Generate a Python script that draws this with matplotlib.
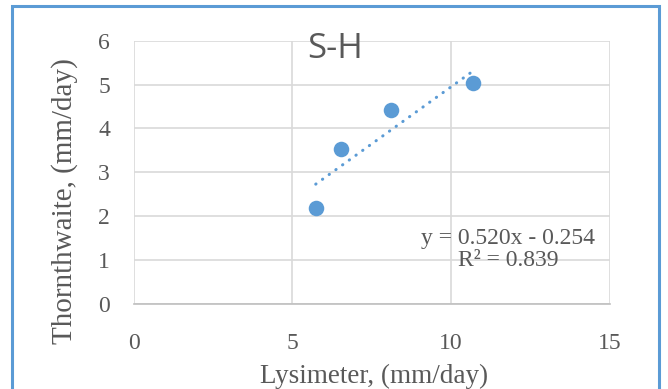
import numpy as np
import matplotlib.pyplot as plt
from matplotlib.patches import Rectangle

# --- Données : évapotranspiration Lysimètre vs Thornthwaite (S-H) ---
lysimeter = [5.74, 6.55, 8.11, 10.71]
thornthwaite = [2.19, 3.53, 4.43, 5.03]
slope = 0.520
intercept = -0.254
r2 = 0.839

blue = "#5B9BD5"
grey_txt = "#595959"
grid_c = "#D9D9D9"
serif = ["Liberation Serif", "DejaVu Serif"]

fig = plt.figure(figsize=(6.68, 3.89), dpi=100)
ax = fig.add_axes([0.2, 0.2185, 0.7126, 0.677])

ax.scatter(lysimeter, thornthwaite, s=125, color=blue, zorder=3, linewidths=0)

# Courbe de tendance linéaire
x_fit = np.array([min(lysimeter), max(lysimeter)])
y_fit = slope * x_fit + intercept
ax.plot(x_fit, y_fit, color=blue, linestyle=(0, (0.1, 2.6)), linewidth=2.2,
        dash_capstyle="round", zorder=2)

ax.set_xlim(0, 15)
ax.set_ylim(0, 6)
ax.set_xticks([0, 5, 10, 15])
ax.set_yticks(range(0, 7))
ax.grid(True, color=grid_c, linewidth=1.2)
ax.set_axisbelow(True)
for s in ["top", "right", "left"]:
    ax.spines[s].set_visible(False)
ax.spines["bottom"].set_color("#BFBFBF")
ax.spines["bottom"].set_linewidth(1.2)
ax.tick_params(length=0, labelsize=17, labelcolor=grey_txt)
ax.tick_params(axis="y", pad=17)
ax.tick_params(axis="x", pad=21)
for lab in ax.get_xticklabels() + ax.get_yticklabels():
    lab.set_family(serif)

ax.set_xlabel("Lysimeter, (mm/day)", fontsize=19.5, color=grey_txt,
              family=serif, va="center")
ax.xaxis.set_label_coords(0.506, -0.2735)
ax.set_ylabel("Thornthwaite, (mm/day)", fontsize=21, color=grey_txt,
              family=serif, va="center")
ax.yaxis.set_label_coords(-0.146, 0.391)

ax.text(0.787, 0.207, f"y = {slope:.3f}x - {abs(intercept):.3f}\nR² = {r2:.3f}",
        transform=ax.transAxes, ha="center", va="center", fontsize=17,
        color=grey_txt, family=serif, linespacing=1.05)

fig.text(335 / 668, 1 - 49 / 389, "S-H", ha="center", va="center",
         fontsize=25, color=grey_txt, family=["Open Sans", "DejaVu Sans"])

# Cadre bleu autour du graphique
fig.patches.append(Rectangle((12 / 668, -0.05), (659 - 12) / 668, 1.05 - 6 / 389,
                             transform=fig.transFigure, fill=False,
                             edgecolor=blue, linewidth=2.2))

plt.savefig("out.png", dpi=100)
